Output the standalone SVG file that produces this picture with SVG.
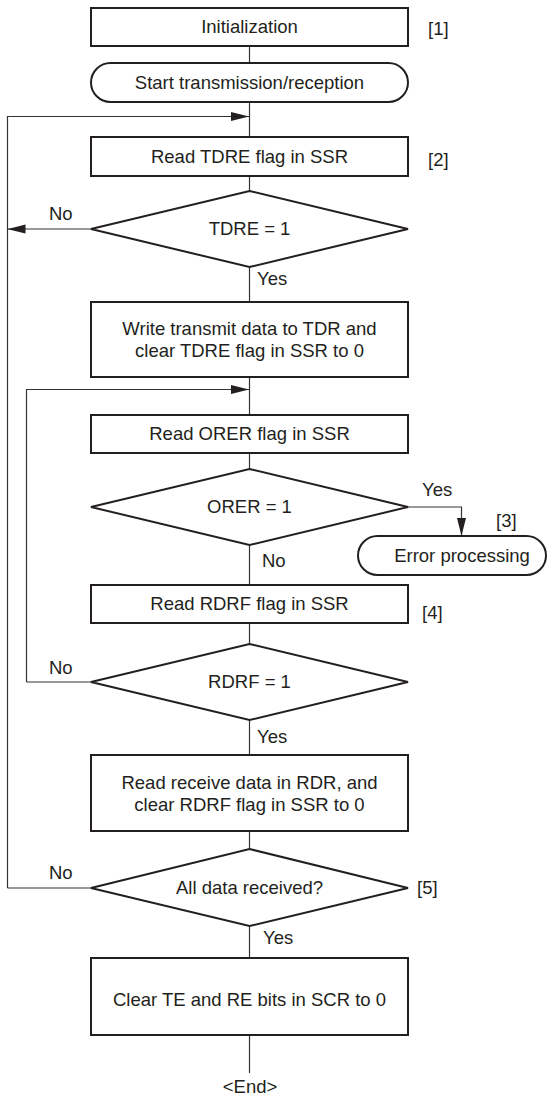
<svg xmlns="http://www.w3.org/2000/svg" width="547" height="1096" viewBox="0 0 547 1096">
<style>
.box{fill:#fff;stroke:#231f20;stroke-width:2}
.ln{fill:none;stroke:#333;stroke-width:1.2}
text{font-family:"Liberation Sans",Arial,Helvetica,sans-serif;font-size:18.5px;fill:#231f20}
.c{text-anchor:middle}
</style>
<defs>
<marker id="ah" markerUnits="userSpaceOnUse" markerWidth="18" markerHeight="10" refX="18" refY="5" orient="auto">
<path d="M0,0.5 L18,5 L0,9.5 z" fill="#231f20"/>
</marker>
</defs>
<g id="connectors">
<line class="ln" x1="249.5" y1="46" x2="249.5" y2="63"/>
<line class="ln" x1="249.5" y1="102" x2="249.5" y2="137"/>
<polyline class="ln" points="7.5,888 7.5,116.5 249,116.5" marker-end="url(#ah)"/>
<line class="ln" x1="249.5" y1="176" x2="249.5" y2="191"/>
<line class="ln" x1="91" y1="229" x2="7.5" y2="229" marker-end="url(#ah)"/>
<line class="ln" x1="249.5" y1="267" x2="249.5" y2="302"/>
<line class="ln" x1="249.5" y1="377" x2="249.5" y2="415"/>
<polyline class="ln" points="26.5,682 26.5,389.5 249,389.5" marker-end="url(#ah)"/>
<line class="ln" x1="249.5" y1="453" x2="249.5" y2="469"/>
<polyline class="ln" points="408,507 461.5,507 461.5,536" marker-end="url(#ah)"/>
<line class="ln" x1="249.5" y1="545" x2="249.5" y2="585"/>
<line class="ln" x1="249.5" y1="623" x2="249.5" y2="644"/>
<line class="ln" x1="91" y1="682" x2="26.5" y2="682"/>
<line class="ln" x1="249.5" y1="720" x2="249.5" y2="755"/>
<line class="ln" x1="249.5" y1="831" x2="249.5" y2="849"/>
<line class="ln" x1="91" y1="888" x2="7.5" y2="888"/>
<line class="ln" x1="249.5" y1="926" x2="249.5" y2="958"/>
<line class="ln" x1="249.5" y1="1035" x2="249.5" y2="1073"/>
<text x="49" y="220">No</text>
<text x="257" y="285">Yes</text>
<text x="422" y="496">Yes</text>
<text x="262" y="567">No</text>
<text x="49" y="674">No</text>
<text x="257" y="743">Yes</text>
<text x="49" y="879">No</text>
<text x="263" y="944">Yes</text>
</g>
<g id="init">
<rect class="box" x="91" y="8" width="317" height="38"/>
<text class="c" x="249.5" y="33">Initialization</text>
<text x="428" y="35">[1]</text>
</g>
<g id="start">
<rect class="box" x="91" y="63" width="317" height="39" rx="19.5" ry="19.5"/>
<text class="c" x="249.5" y="89">Start transmission/reception</text>
</g>
<g id="readTDRE">
<rect class="box" x="91" y="137" width="317" height="39"/>
<text class="c" x="249.5" y="163">Read TDRE flag in SSR</text>
<text x="428" y="166">[2]</text>
</g>
<g id="tdre">
<polygon class="box" points="249.5,191 408,229 249.5,267 91,229"/>
<text class="c" x="249.5" y="235">TDRE = 1</text>
</g>
<g id="writeTDR">
<rect class="box" x="91" y="302" width="317" height="75"/>
<text class="c" x="249.5" y="335">Write transmit data to TDR and</text>
<text class="c" x="249.5" y="357">clear TDRE flag in SSR to 0</text>
</g>
<g id="readORER">
<rect class="box" x="91" y="415" width="317" height="38"/>
<text class="c" x="249.5" y="440">Read ORER flag in SSR</text>
</g>
<g id="orer">
<polygon class="box" points="249.5,469 408,507 249.5,545 91,507"/>
<text class="c" x="249.5" y="513">ORER = 1</text>
</g>
<g id="error">
<rect class="box" x="358" y="536" width="188" height="39" rx="19.5" ry="19.5"/>
<text class="c" x="462" y="562">Error processing</text>
<text x="496" y="527">[3]</text>
</g>
<g id="readRDRF">
<rect class="box" x="91" y="585" width="317" height="38"/>
<text class="c" x="249.5" y="610">Read RDRF flag in SSR</text>
<text x="422" y="619">[4]</text>
</g>
<g id="rdrf">
<polygon class="box" points="249.5,644 408,682 249.5,720 91,682"/>
<text class="c" x="249.5" y="688">RDRF = 1</text>
</g>
<g id="readRDR">
<rect class="box" x="91" y="755" width="317" height="76"/>
<text class="c" x="249.5" y="789">Read receive data in RDR, and</text>
<text class="c" x="249.5" y="811">clear RDRF flag in SSR to 0</text>
</g>
<g id="alldata">
<polygon class="box" points="249.5,849 408,888 249.5,926 91,888"/>
<text class="c" x="249.5" y="894">All data received?</text>
<text x="417" y="894">[5]</text>
</g>
<g id="clear">
<rect class="box" x="91" y="958" width="317" height="77"/>
<text class="c" x="249.5" y="1006">Clear TE and RE bits in SCR to 0</text>
</g>
<g id="end">
<text class="c" x="250" y="1093">&lt;End&gt;</text>
</g>
</svg>
